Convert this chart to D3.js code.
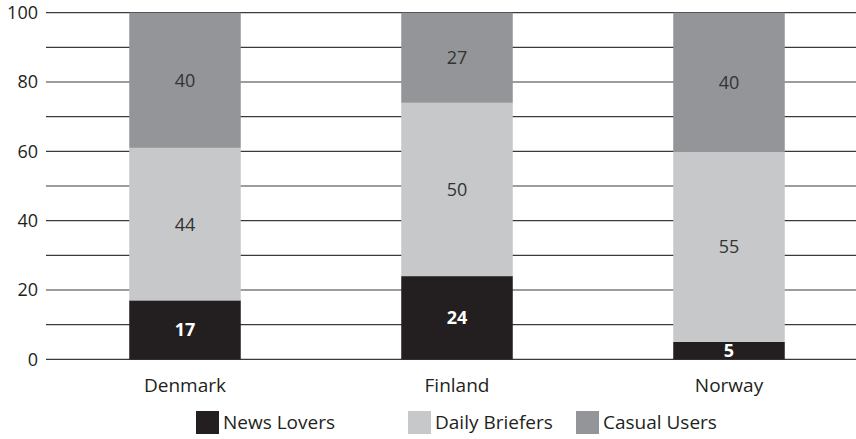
<!DOCTYPE html>
<html>
<head>
<meta charset="utf-8">
<script src="https://cdn.jsdelivr.net/npm/d3@7"></script>
<style>
  html, body { margin: 0; padding: 0; background: #fff; }
  svg { display: block; font-family: "Open Sans", "Noto Sans", sans-serif; }
</style>
</head>
<body>
<svg id="chart" width="856" height="439"></svg>
<script>
// Countries and the share of each user group (percent)
const countries = ["Denmark", "Finland", "Norway"];
const seriesNames = ["News Lovers", "Daily Briefers", "Casual Users"];
const newsLovers = [17, 24, 5];
const dailyBriefers = [44, 50, 55];
const casualUsers = [40, 27, 40];
const yTicks = [0, 20, 40, 60, 80, 100];
const gridValues = [0, 10, 20, 30, 40, 50, 60, 70, 80, 90, 100];

const colors = ["#231f20", "#c7c8ca", "#939598"];

const rows = countries.map((c, i) => ({
  country: c,
  "News Lovers": newsLovers[i],
  "Daily Briefers": dailyBriefers[i],
  "Casual Users": casualUsers[i]
}));
const stacked = d3.stack().keys(seriesNames)(rows);

const svg = d3.select("#chart");
const plotLeft = 46, plotRight = 856;

const x = d3.scaleBand()
  .domain(countries)
  .range([49, 865])
  .paddingInner(0.59)
  .paddingOuter(0.295);

const y = d3.scaleLinear()
  .domain([0, 100])
  .range([359.3, 12.7])
  .clamp(true);

const color = d3.scaleOrdinal().domain(seriesNames).range(colors);

// Horizontal gridlines
svg.append("g")
  .selectAll("line")
  .data(gridValues)
  .join("line")
  .attr("x1", plotLeft)
  .attr("x2", plotRight)
  .attr("y1", d => y(d))
  .attr("y2", d => y(d))
  .attr("stroke", "#3a3a3a")
  .attr("stroke-width", 1.2);

// Y axis tick labels
const yAxis = d3.axisLeft(y).tickValues(yTicks).tickSize(0).tickPadding(8);
svg.append("g")
  .attr("transform", `translate(${plotLeft},0)`)
  .call(yAxis)
  .call(g => g.select(".domain").remove())
  .call(g => g.selectAll("text")
    .attr("font-family", "'Open Sans', sans-serif")
    .attr("font-size", 18)
    .attr("fill", "#231f20"));

// Stacked bars
const layers = svg.append("g")
  .selectAll("g")
  .data(stacked)
  .join("g")
  .attr("fill", d => color(d.key));

layers.selectAll("rect")
  .data(d => d)
  .join("rect")
  .attr("x", d => x(d.data.country))
  .attr("width", x.bandwidth())
  .attr("y", d => y(d[1]))
  .attr("height", d => y(d[0]) - y(d[1]));

// Segment value labels
const labelLayers = svg.append("g")
  .selectAll("g")
  .data(stacked)
  .join("g");

labelLayers.selectAll("text")
  .data(d => d.map(v => ({ key: d.key, v })))
  .join("text")
  .attr("x", d => x(d.v.data.country) + x.bandwidth() / 2)
  .attr("y", d => (y(d.v[0]) + y(d.v[1])) / 2)
  .attr("dy", "0.36em")
  .attr("text-anchor", "middle")
  .attr("font-size", 18)
  .attr("font-weight", d => d.key === "News Lovers" ? 700 : 400)
  .attr("fill", d => d.key === "News Lovers" ? "#ffffff" : "#333333")
  .text(d => d.v.data[d.key]);

// Category labels
const xAxis = d3.axisBottom(x).tickSize(0).tickPadding(0);
svg.append("g")
  .attr("transform", "translate(0,378)")
  .call(xAxis)
  .call(g => g.select(".domain").remove())
  .call(g => g.selectAll("text")
    .attr("font-family", "'Open Sans', sans-serif")
    .attr("font-size", 19)
    .attr("fill", "#231f20")
    .attr("dy", "0.71em"));

// Legend
const legendX = [196, 408, 576];
const legend = svg.append("g")
  .selectAll("g")
  .data(seriesNames)
  .join("g")
  .attr("transform", (d, i) => `translate(${legendX[i]},411)`);

legend.append("rect")
  .attr("width", 23)
  .attr("height", 23)
  .attr("fill", d => color(d));

legend.append("text")
  .attr("x", 27)
  .attr("y", 11.5)
  .attr("dy", "0.36em")
  .attr("font-size", 19)
  .attr("fill", "#231f20")
  .text(d => d);
</script>
</body>
</html>
